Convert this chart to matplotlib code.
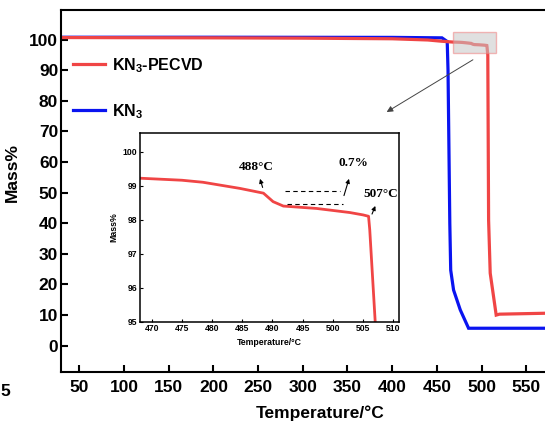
import matplotlib
matplotlib.use("Agg")
import matplotlib.pyplot as plt
from matplotlib.patches import Rectangle

plt.rcParams['font.family'] = ['Liberation Sans', 'DejaVu Sans']
plt.rcParams['font.weight'] = 'bold'
plt.rcParams['mathtext.fontset'] = 'custom'
plt.rcParams['mathtext.rm'] = 'Liberation Sans:bold'
plt.rcParams['mathtext.default'] = 'rm'

# TGA curves
t_pecvd = [29.5, 100, 200, 300, 400, 440, 455, 468, 475, 478.5, 484.6, 488.5,
           490.1, 491.8, 497.3, 502.8, 505.0, 505.9, 506.1, 507.0, 507.9, 509.7,
           516.4, 520, 571]
m_pecvd = [100.7, 100.65, 100.6, 100.5, 100.3, 99.9, 99.5, 99.22, 99.16, 99.10, 98.92, 98.78,
           98.53, 98.40, 98.33, 98.21, 98.14, 98.10, 97.7, 95.0, 41.0, 23.7,
           10.0, 10.3, 10.6]

t_kn3 = [29.5, 200, 400, 455.7, 461.6, 462.5, 464.5, 465.5, 468.7, 476.2, 485.5, 571]
m_kn3 = [100.8, 100.8, 100.75, 100.6, 99.4, 90, 40, 24.7, 18.2, 11.7, 5.7, 5.7]

red = '#f04545'
blue = '#0a14f0'

fig = plt.figure(figsize=(5.45, 4.21), dpi=100)
ax = fig.add_axes([61/545, 1-371.7/421, 1-61/545, (371.7-10)/421])

ax.plot(t_kn3, m_kn3, color=blue, lw=2.3, label='KN$_3$', solid_joinstyle='miter')
ax.plot(t_pecvd, m_pecvd, color=red, lw=2.3, label='KN$_3$-PECVD', solid_joinstyle='miter')

ax.set_xlim(29.5, 571)
ax.set_ylim(-8.5, 109.7)
ax.set_xticks(range(50, 551, 50))
ax.set_yticks(range(0, 101, 10))
ax.spines['right'].set_visible(False)
for s in ['left', 'bottom', 'top']:
    ax.spines[s].set_linewidth(1.5)
ax.tick_params(direction='in', length=5, width=1.5, labelsize=12.5, right=False)
ax.tick_params(axis='x', pad=6)
ax.tick_params(axis='y', pad=2)
ax.set_xlabel('Temperature/°C', fontsize=12.5, fontweight='bold')
ax.set_ylabel('Mass%', fontsize=12.5, fontweight='bold')
ax.xaxis.set_label_coords((320-61)/484, -(405-371.7)/361.7)
ax.yaxis.set_label_coords(-(61-20)/484, (371.7-172)/361.7)

h, l = ax.get_legend_handles_labels()
ax.legend(h[::-1], l[::-1], loc='upper left', bbox_to_anchor=(12/484, (371.7-56)/361.7),
          frameon=False, fontsize=11.5, handlelength=2.0, handletextpad=0.45,
          labelspacing=1.7, borderpad=0, borderaxespad=0)

# zoom box and pointer
ax.add_patch(Rectangle((468.3, 95.7), 48.1, 6.8, facecolor='#c8c8c8', alpha=0.55,
                       edgecolor='#f08080', lw=1.0, zorder=5))
ax.annotate('', xy=(391.2, 75.9), xytext=(493, 93.9),
            arrowprops=dict(arrowstyle='-|>', color='#444444', lw=0.7, mutation_scale=9))

fig.text(0.5/545, 1-391/421, '5', ha='left', va='center', fontsize=12.5, fontweight='bold')

# inset
ins = fig.add_axes([140/545, 1-321.7/421, (399-140)/545, (321.7-133.3)/421])
ins.plot(t_pecvd, m_pecvd, color=red, lw=2.0)
ins.set_xlim(468.07, 510.94)
ins.set_ylim(95, 100.54)
ins.set_xticks(range(470, 511, 5))
ins.set_yticks(range(95, 101, 1))
for s in ins.spines.values():
    s.set_linewidth(1.1)
ins.tick_params(direction='in', length=2.5, width=0.8, labelsize=6.2, pad=2)
ins.set_xlabel('Temperature/°C', fontsize=6.3, fontweight='bold', labelpad=3)
ins.set_ylabel('Mass%', fontsize=6.3, fontweight='bold', labelpad=3)

serif = dict(family=['Liberation Serif', 'DejaVu Serif'], fontweight='bold', fontsize=9.5)
ins.text(487.4, 99.56, '488°C', ha='center', va='center', **serif)
ins.text(503.4, 99.66, '0.7%', ha='center', va='center', **serif)
ins.text(507.9, 98.75, '507°C', ha='center', va='center', **serif)
arr = dict(arrowstyle='-|>', color='black', lw=0.8, mutation_scale=6)
ins.annotate('', xy=(487.8, 99.28), xytext=(488.5, 98.87), arrowprops=arr)
ins.annotate('', xy=(502.8, 99.28), xytext=(501.7, 98.63), arrowprops=arr)
ins.annotate('', xy=(507.2, 98.48), xytext=(506.3, 98.09), arrowprops=arr)
ins.plot([492.1, 501.2], [98.84, 98.84], color='black', lw=0.8, ls=(0, (4, 3)))
ins.plot([492.4, 501.7], [98.45, 98.45], color='black', lw=0.8, ls=(0, (4, 3)))

fig.savefig('out.png', dpi=100)
